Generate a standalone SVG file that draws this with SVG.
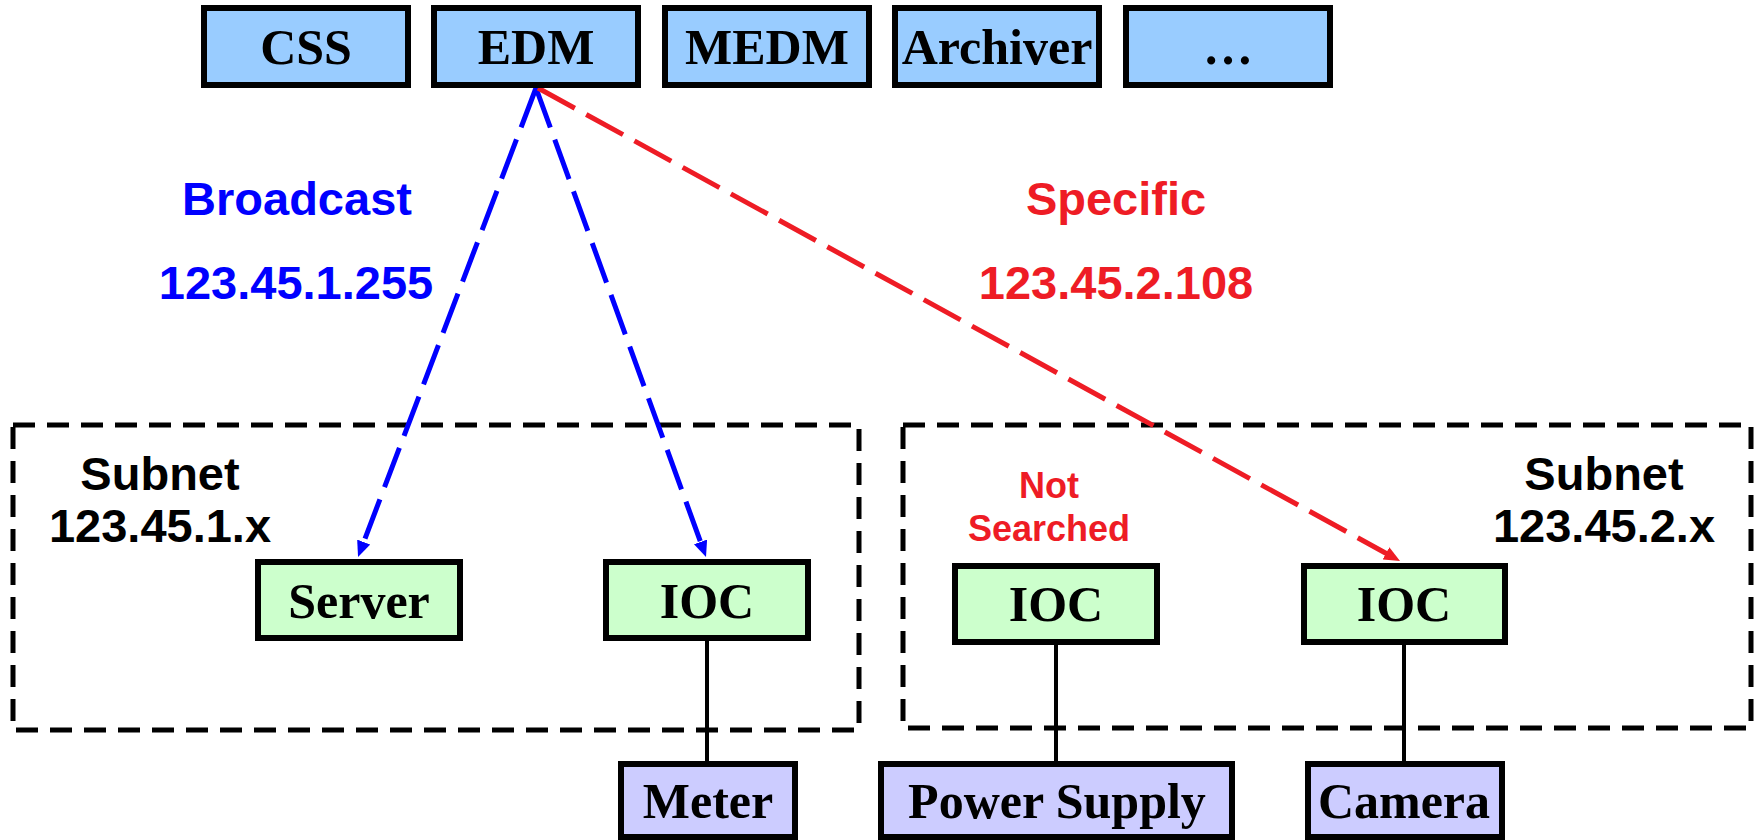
<svg xmlns="http://www.w3.org/2000/svg" width="1763" height="840" viewBox="0 0 1763 840">
  <style>
    .client { fill: #99ccff; stroke: #000; stroke-width: 6; }
    .host { fill: #ccffcc; stroke: #000; stroke-width: 6; }
    .device { fill: #ccccff; stroke: #000; stroke-width: 6; }
    .subnet { fill: none; stroke: #000; stroke-width: 5; stroke-dasharray: 22 12; }
    .serif { font-family: "Liberation Serif", "Times New Roman", serif; font-weight: bold; font-size: 50px; text-anchor: middle; fill: #000; }
    .sans { font-family: "Liberation Sans", Arial, sans-serif; font-weight: bold; font-size: 47px; text-anchor: middle; }
    .blue { fill: #0000ff; }
    .red { fill: #ee1c25; }
    .black { fill: #000; }
    .search-b { fill: none; stroke: #0000ff; stroke-width: 5; stroke-dasharray: 42 13; }
    .search-r { fill: none; stroke: #ee1c25; stroke-width: 5; stroke-dasharray: 42 13; }
    .wire { stroke: #000; stroke-width: 4; }
  </style>
  <defs>
    <marker id="arrow-blue" markerUnits="userSpaceOnUse" markerWidth="16" markerHeight="14" refX="4" refY="7" orient="auto">
      <path d="M0,0 L16,7 L0,14 z" fill="#0000ff"/>
    </marker>
    <marker id="arrow-red" markerUnits="userSpaceOnUse" markerWidth="16" markerHeight="14" refX="4" refY="7" orient="auto">
      <path d="M0,0 L16,7 L0,14 z" fill="#ee1c25"/>
    </marker>
  </defs>
  <rect width="1763" height="840" fill="#fff"/>

  <!-- subnets -->
  <g id="subnet-1">
    <rect class="subnet" x="13" y="425" width="846" height="305"/>
    <text class="sans black" x="160" y="490">Subnet</text>
    <text class="sans black" x="160" y="542">123.45.1.x</text>
  </g>
  <g id="subnet-2">
    <rect class="subnet" x="903" y="425" width="848" height="303"/>
    <text class="sans black" x="1604" y="490">Subnet</text>
    <text class="sans black" x="1604" y="542">123.45.2.x</text>
  </g>

  <!-- search labels -->
  <g id="labels">
    <text class="sans blue" x="297" y="215">Broadcast</text>
    <text class="sans blue" x="296" y="299">123.45.1.255</text>
    <text class="sans red" x="1116" y="215">Specific</text>
    <text class="sans red" x="1116" y="299">123.45.2.108</text>
    <text class="sans red" x="1049" y="498" style="font-size:36px">Not</text>
    <text class="sans red" x="1049" y="541" style="font-size:36px">Searched</text>
  </g>

  <!-- connectors -->
  <g id="connectors">
    <line class="search-b" x1="536" y1="88" x2="362.3" y2="545.8" marker-end="url(#arrow-blue)"/>
    <line class="search-b" x1="536" y1="88" x2="701.9" y2="545.7" marker-end="url(#arrow-blue)"/>
    <line class="search-r" x1="538" y1="88" x2="1389.5" y2="555.2" marker-end="url(#arrow-red)"/>
    <line class="wire" x1="707" y1="641" x2="707" y2="764"/>
    <line class="wire" x1="1056" y1="645" x2="1056" y2="764"/>
    <line class="wire" x1="1404" y1="645" x2="1404" y2="764"/>
  </g>

  <!-- client tools -->
  <g id="css"><rect class="client" x="204" y="8" width="204" height="77"/><text class="serif" x="306" y="64">CSS</text></g>
  <g id="edm"><rect class="client" x="434" y="8" width="204" height="77"/><text class="serif" x="536" y="64">EDM</text></g>
  <g id="medm"><rect class="client" x="665" y="8" width="204" height="77"/><text class="serif" x="767" y="64">MEDM</text></g>
  <g id="archiver"><rect class="client" x="895" y="8" width="204" height="77"/><text class="serif" x="997" y="64">Archiver</text></g>
  <g id="more"><rect class="client" x="1126" y="8" width="204" height="77"/><text class="serif" x="1228" y="64">…</text></g>

  <!-- hosts -->
  <g id="server"><rect class="host" x="258" y="562" width="202" height="76"/><text class="serif" x="359" y="618">Server</text></g>
  <g id="ioc-1"><rect class="host" x="606" y="562" width="202" height="76"/><text class="serif" x="707" y="618">IOC</text></g>
  <g id="ioc-2"><rect class="host" x="955" y="566" width="202" height="76"/><text class="serif" x="1056" y="621">IOC</text></g>
  <g id="ioc-3"><rect class="host" x="1304" y="566" width="201" height="76"/><text class="serif" x="1404" y="621">IOC</text></g>

  <!-- devices -->
  <g id="meter"><rect class="device" x="621" y="764" width="174" height="73"/><text class="serif" x="708" y="818">Meter</text></g>
  <g id="power-supply"><rect class="device" x="881" y="764" width="351" height="73"/><text class="serif" x="1057" y="818">Power Supply</text></g>
  <g id="camera"><rect class="device" x="1308" y="764" width="194" height="73"/><text class="serif" x="1404" y="818">Camera</text></g>
</svg>
